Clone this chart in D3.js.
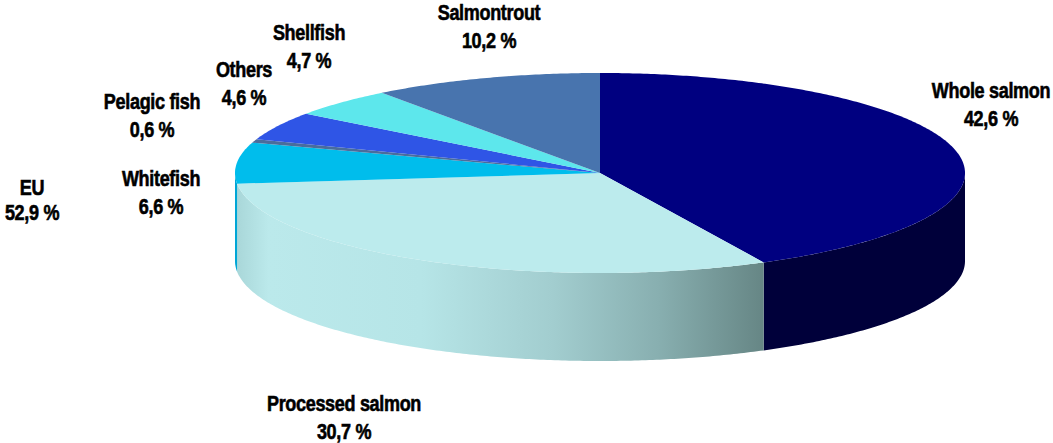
<!DOCTYPE html>
<html>
<head>
<meta charset="utf-8">
<script src="https://cdn.jsdelivr.net/npm/d3@7/dist/d3.min.js"></script>
<style>
  html, body { margin: 0; padding: 0; background: #ffffff; }
  svg { display: block; }
  .lbl { font-family: "Liberation Sans Narrow", "Arial Narrow", "Liberation Sans", Arial, sans-serif; font-weight: bold; font-size: 22px; fill: #000; stroke: #000; stroke-width: 0.6px; letter-spacing: -0.4px; }
</style>
</head>
<body>
<svg id="chart" width="1053" height="443"></svg>
<script>
// Export shares by product group, in percent (clockwise from 12 o'clock)
const categories = ["Whole salmon", "Processed salmon", "Whitefish", "Pelagic fish", "Others", "Shellfish", "Salmontrout"];
const shares = [42.6, 30.7, 6.6, 0.6, 4.6, 4.7, 10.2];
const shareLabels = ["42,6 %", "30,7 %", "6,6 %", "0,6 %", "4,6 %", "4,7 %", "10,2 %"];

// Extra annotation shown to the left of the pie
const regionName = "EU";
const regionLabel = "52,9 %";

// Fill colours: top faces and the side walls
const topColors = ["#000080", "#bcebed", "#00bdec", "#4a6d9c", "#2f55e6", "#5de7ec", "#4874ae"];
const sideColors = ["#00003a", "url(#procSide)", "#00a6d6", "#3d5a82", "#2444b8", "#48c0c4", "#3a5e8e"];

// Label anchor positions (name line; value sits one line below)
const labelPos = [
  [991, 98], [344, 411], [161, 186], [152, 109], [244, 77], [309, 40], [489, 20]
];
const regionPos = [32, 195];
const lineGap = 28;

// Projected pie geometry
const cx = 600, cy = 173, rx = 365, ry = 100, depth = 88;
// Labels are set in a condensed face; squeeze horizontally if the narrow cut is absent
const squeeze = 0.82;

const svg = d3.select("#chart");
const defs = svg.append("defs");
const grad = defs.append("linearGradient").attr("id", "procSide")
  .attr("x1", "0%").attr("x2", "100%").attr("y1", "0%").attr("y2", "0%");
[[0, "#a9d7d9"], [0.06, "#bbe9eb"], [0.35, "#b6e5e7"], [0.6, "#a2cdcf"], [0.8, "#88afb0"], [1, "#668685"]]
  .forEach(([o, c]) => grad.append("stop").attr("offset", o).attr("stop-color", c));

const pie = d3.pie().sort(null).startAngle(0).endAngle(2 * Math.PI);
const arcs = pie(shares);

// Point on the tilted ellipse for an angle measured clockwise from the top
const px = a => cx + rx * Math.sin(a);
const py = (a, dz = 0) => cy - ry * Math.cos(a) + dz;

function samples(a0, a1) {
  const n = Math.max(2, Math.ceil(Math.abs(a1 - a0) / 0.01));
  return d3.range(n + 1).map(i => a0 + (a1 - a0) * i / n);
}

function topPath(d) {
  const p = d3.path();
  p.moveTo(cx, cy);
  samples(d.startAngle, d.endAngle).forEach(a => p.lineTo(px(a), py(a)));
  p.closePath();
  return p.toString();
}

function sidePath(d) {
  const a0 = Math.max(d.startAngle, Math.PI / 2);
  const a1 = Math.min(d.endAngle, 3 * Math.PI / 2);
  if (a1 <= a0) return null;
  const p = d3.path();
  const top = samples(a0, a1);
  p.moveTo(px(top[0]), py(top[0]));
  top.forEach(a => p.lineTo(px(a), py(a)));
  top.slice().reverse().forEach(a => p.lineTo(px(a), py(a, depth)));
  p.closePath();
  return p.toString();
}

// Side walls first, then the top faces over them
svg.append("g").selectAll("path")
  .data(arcs.filter(d => sidePath(d)))
  .join("path")
  .attr("d", sidePath)
  .attr("fill", d => sideColors[d.index]);

svg.append("g").selectAll("path")
  .data(arcs)
  .join("path")
  .attr("d", topPath)
  .attr("fill", d => topColors[d.index]);

// Category labels with their shares
const lg = svg.append("g");
function addLabel(x, y, str) {
  lg.append("text").attr("class", "lbl")
    .attr("transform", `translate(${x},${y}) scale(${squeeze},1)`)
    .attr("text-anchor", "middle").text(str);
}
arcs.forEach(d => {
  const [x, y] = labelPos[d.index];
  addLabel(x, y, categories[d.index]);
  addLabel(x, y + lineGap, shareLabels[d.index]);
});
addLabel(regionPos[0], regionPos[1], regionName);
addLabel(regionPos[0], regionPos[1] + 25, regionLabel);
</script>
</body>
</html>
